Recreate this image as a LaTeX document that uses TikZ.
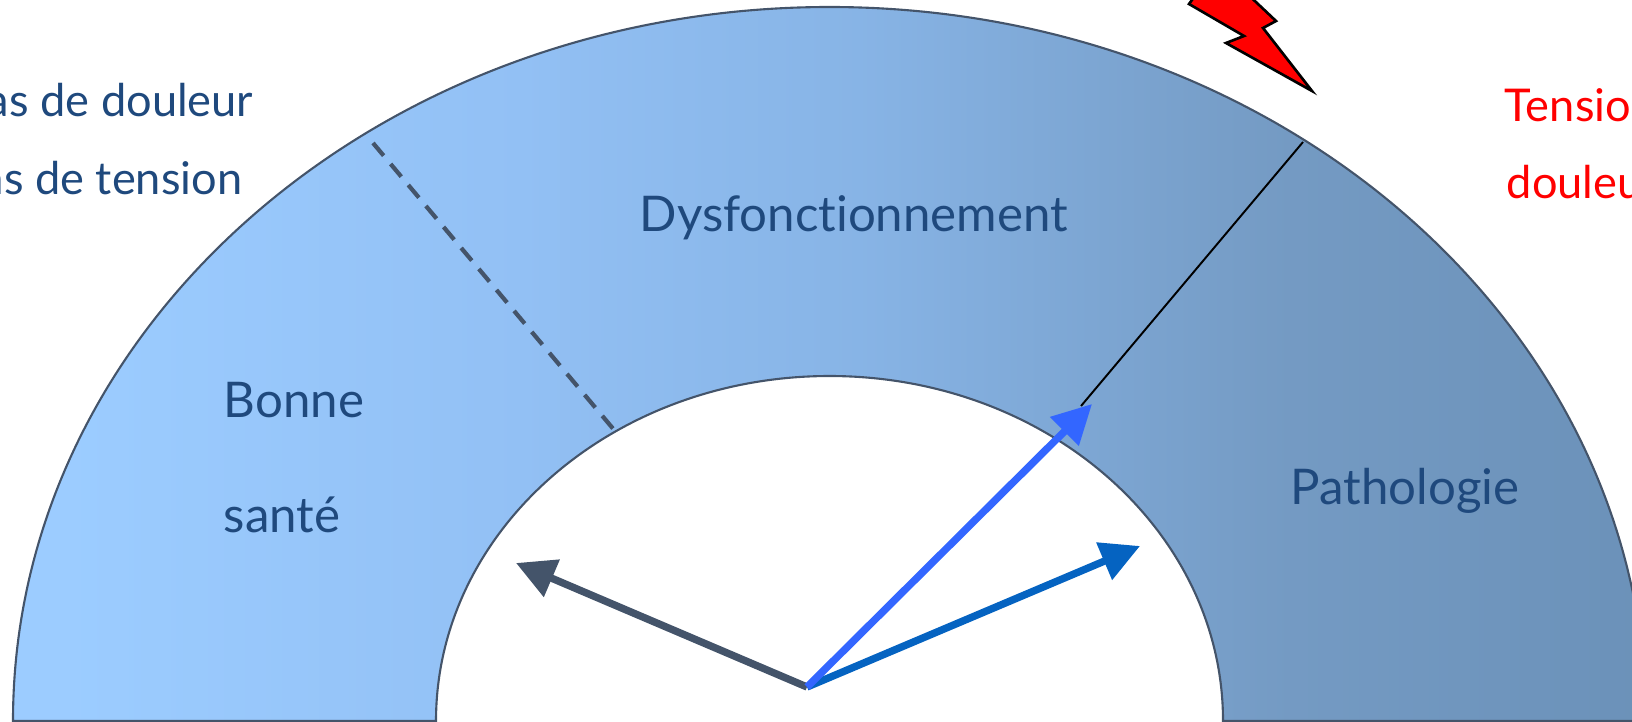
\documentclass[tikz,border=0pt]{standalone}
\usepackage{fontspec}
\setmainfont[Ligatures=NoCommon]{Lato}
\usepackage{xcolor}
\usetikzlibrary{arrows.meta,positioning,calc}
\definecolor{slateline}{RGB}{68,84,106}
\definecolor{labelblue}{RGB}{31,73,125}
\definecolor{arrowbright}{RGB}{51,102,255}
\definecolor{arrowmid}{RGB}{5,99,193}
\pgfdeclarehorizontalshading{gaugeshade}{100bp}{
  rgb(0bp)=(0.61,0.80,1); rgb(27bp)=(0.61,0.80,1); rgb(40bp)=(0.575,0.755,0.96);
  rgb(51bp)=(0.53,0.705,0.90); rgb(64bp)=(0.455,0.605,0.765); rgb(75bp)=(0.42,0.57,0.725); rgb(100bp)=(0.42,0.57,0.725)}

\begin{document}
\begin{tikzpicture}[every node/.style={font=\fontsize{14}{17}\selectfont, inner sep=0pt},
    bluetext/.style={text=labelblue},
    sidetext/.style={font=\fontsize{12.85}{17}\selectfont},
    redtext/.style={text=red},
    needle/.style={line width=2.1pt, -{Triangle[length=0.39cm,width=0.39cm]}}]
        \useasboundingbox (0,0) rectangle (16.32,7.21);
        \shadedraw[draw=slateline, line width=0.6pt, shading=gaugeshade]
            (0.13,0) arc [start angle=180, end angle=0, x radius=8.165, y radius=7.14]
            -- (12.23,0) arc [start angle=0, end angle=180, x radius=3.935, y radius=3.45] -- cycle;
        \coordinate (dashtop) at (3.73,5.78);
        \coordinate (dashbot) at (6.15,2.90);
        \coordinate (linetop) at (13.03,5.79);
        \coordinate (linebot) at (10.81,3.15);
        \coordinate (pivot) at (8.07,0.34);
        \coordinate (tipsane) at (5.16,1.58);
        \coordinate (tipedge) at (10.92,3.17);
        \coordinate (tipdys) at (11.40,1.75);
        \draw[slateline, line width=1.2pt, dash pattern=on 4.7pt off 3.1pt] (dashtop) -- (dashbot);
        \draw[black, line width=0.55pt] (linetop) -- (linebot);
        \draw[needle, slateline] (pivot) -- (tipsane);
        \draw[needle, arrowmid] (pivot) -- (tipdys);
        \draw[needle, arrowbright] (pivot) -- (tipedge);
        \draw[fill=red, line width=0.75pt, line join=miter] (13.12,6.30) -- (12.26,6.78) -- (12.44,6.85) -- (11.89,7.17) -- (12.00,7.32) -- (12.40,7.34) -- (12.76,7.00) -- (12.63,6.93) -- cycle;
        \node[bluetext, anchor=base west] (dys) at (6.39,4.90) {Dysfonctionnement};
        \node[bluetext, anchor=base west] (path) at (12.90,2.17) {Pathologie};
        \node[bluetext, anchor=base west] (bonne) at (2.23,3.04) {Bonne};
        \node[bluetext, anchor=base west] (sante) at (2.23,1.89) {santé};
        \node[bluetext, sidetext, anchor=base east] (nopain) at (2.54,6.04) {Pas de douleur};
        \node[bluetext, sidetext, anchor=base east] (notens) at (2.43,5.27) {Pas de tension};
        \node[redtext, sidetext, anchor=base west] (tens) at (15.04,6.00) {Tension};
        \node[redtext, sidetext, anchor=base west] (doul) at (15.06,5.23) {douleur};
      \end{tikzpicture}
\end{document}
